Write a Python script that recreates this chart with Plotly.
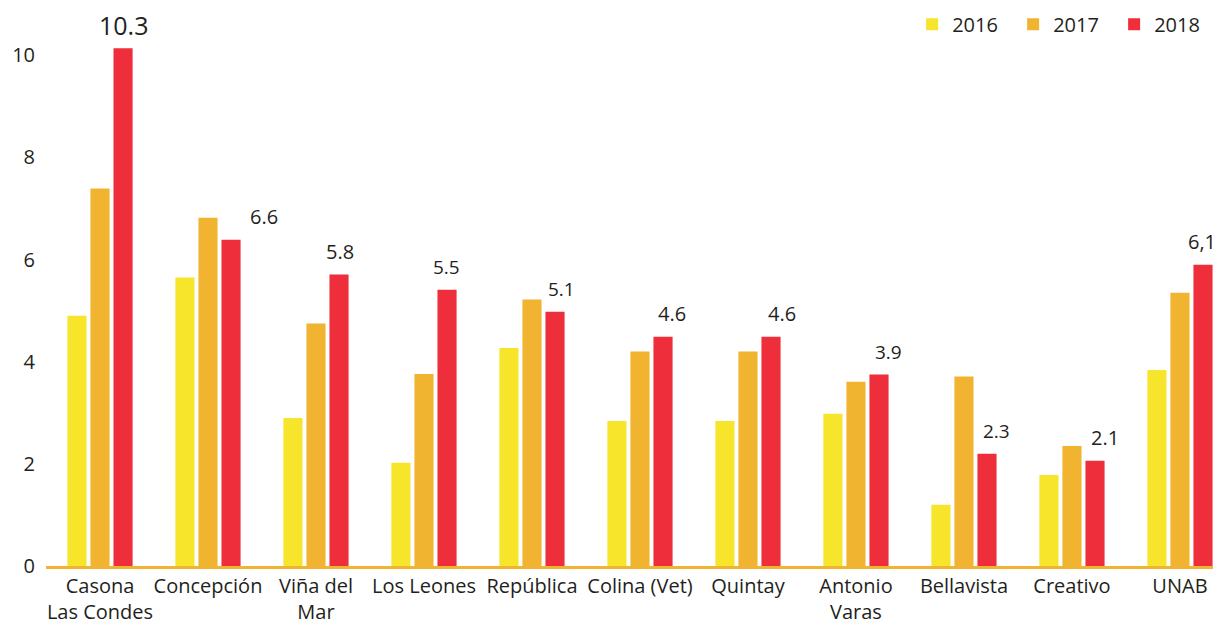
import plotly.graph_objects as go

categories = ["Casona<br>Las Condes", "Concepción", "Viña del<br>Mar", "Los Leones", "República",
              "Colina (Vet)", "Quintay", "Antonio<br>Varas", "Bellavista", "Creativo", "UNAB"]
v2016 = [4.90, 5.65, 2.90, 2.02, 4.27, 2.84, 2.84, 2.98, 1.20, 1.78, 3.84]
v2017 = [7.39, 6.82, 4.75, 3.76, 5.22, 4.20, 4.20, 3.61, 3.71, 2.35, 5.35]
v2018 = [10.14, 6.39, 5.71, 5.41, 4.98, 4.49, 4.49, 3.75, 2.20, 2.06, 5.90]
labels2018 = ["10.3", "6.6", "5.8", "5.5", "5.1", "4.6", "4.6", "3.9", "2.3", "2.1", "6,1"]
series_names = ["2016", "2017", "2018"]
y_ticks = [0, 2, 4, 6, 8, 10]

colors = ["#F7E52B", "#F0B430", "#EE2E3A"]
label_xshift = [23, 56, 24, 23, 30, 32, 34, 33, 33, 33, 22]
label_size = [25, 20, 20, 19, 19, 20, 20, 19, 19, 20, 20]

FONT = "Open Sans"
TXT = "#231F20"

xs = list(range(len(categories)))
fig = go.Figure()
for name, vals, c in zip(series_names, [v2016, v2017, v2018], colors):
    fig.add_trace(go.Bar(x=xs, y=vals, name=name, marker=dict(color=c, line=dict(width=0))))

for i, (v, t) in enumerate(zip(v2018, labels2018)):
    fig.add_annotation(x=xs[i], y=v, text=t, showarrow=False, xref="x", yref="y",
                       xshift=label_xshift[i], yshift=23, yanchor="middle",
                       font=dict(family=FONT, size=label_size[i], color=TXT))

fig.update_layout(
    width=1213, height=616,
    margin=dict(l=38, r=0, t=32, b=58, autoexpand=False),
    paper_bgcolor="white", plot_bgcolor="white",
    barmode="group", bargap=0.36, bargroupgap=0.17,
    font=dict(family=FONT, size=20, color=TXT),
    legend=dict(orientation="h", x=0.995, xanchor="right", y=1.03, yanchor="middle",
                font=dict(family=FONT, size=20, color=TXT), traceorder="normal",
                entrywidth=56, entrywidthmode="pixels", bgcolor="rgba(0,0,0,0)"),
    xaxis=dict(tickmode="array", tickvals=xs, ticktext=categories, range=[-0.5, 10.38],
               showline=True, linecolor="#F0B430", linewidth=3, showgrid=False,
               ticks="", tickangle=0, tickfont=dict(size=20), automargin=False),
    yaxis=dict(range=[0, 10.3], tickvals=y_ticks, showgrid=False, zeroline=False,
               showline=False, ticks="", ticklabelstandoff=10, tickfont=dict(size=20),
               automargin=False),
)

fig.write_html("out.html")
